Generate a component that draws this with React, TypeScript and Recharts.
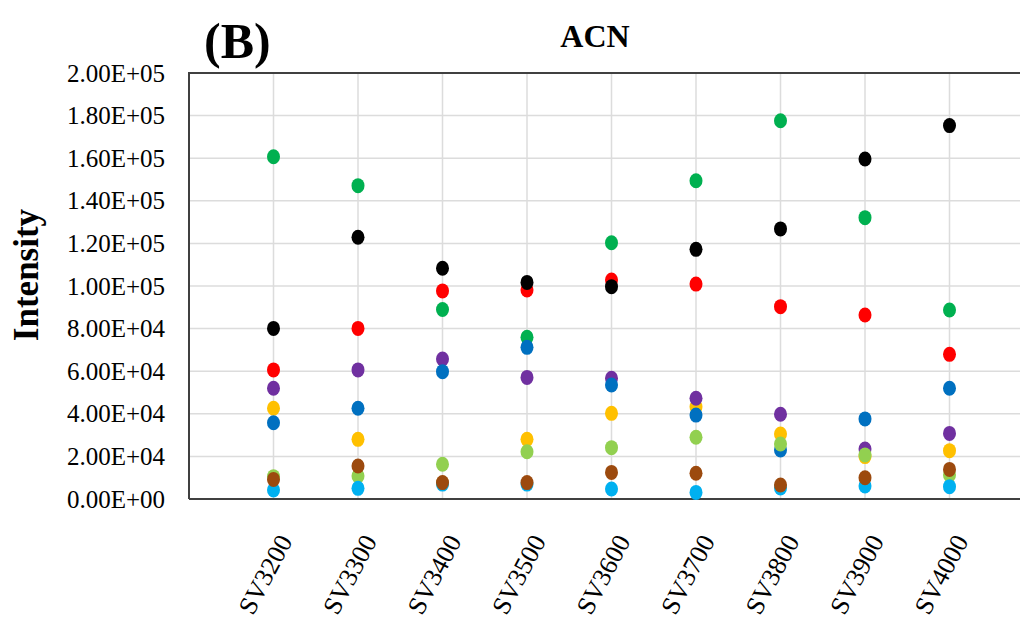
import React from "react";
import {
	ScatterChart,
	Scatter,
	XAxis,
	YAxis,
	CartesianGrid,
} from "recharts";

const categories = ["SV3200", "SV3300", "SV3400", "SV3500", "SV3600", "SV3700", "SV3800", "SV3900", "SV4000"];

const greenValues = [160700, 147100, 89000, 75900, 120300, 149400, 177600, 132100, 88700];
const blackValues = [80100, 122900, 108300, 101700, 99700, 117200, 126800, 159600, 175300];
const redValues = [60600, 80100, 97700, 98100, 102800, 100900, 90300, 86400, 67900];
const purpleValues = [52000, 60600, 65700, 57100, 56700, 47300, 39800, 23500, 30800];
const blueValues = [35800, 42600, 59800, 71200, 53500, 39400, 23000, 37600, 52000];
const yellowValues = [42600, 28000, 7500, 28000, 40200, 43300, 30500, 19900, 22700];
const lightGreenValues = [10500, 10800, 16300, 22200, 24100, 29000, 25800, 20700, 11300];
const brownValues = [9200, 15500, 7700, 7700, 12500, 12100, 6600, 10000, 13900];
const lightBlueValues = [4200, 5000, 7000, 7000, 4700, 3100, 5200, 6100, 5800];

const yTicks = [0, 20000, 40000, 60000, 80000, 100000, 120000, 140000, 160000, 180000, 200000];
const xTicks = [1, 2, 3, 4, 5, 6, 7, 8, 9];

// drawn bottom to top
const series = [
	{ name: "yellow", color: "#FFC000", values: yellowValues },
	{ name: "green", color: "#00B050", values: greenValues },
	{ name: "red", color: "#FF0000", values: redValues },
	{ name: "black", color: "#000000", values: blackValues },
	{ name: "purple", color: "#7030A0", values: purpleValues },
	{ name: "blue", color: "#0070C0", values: blueValues },
	{ name: "lightGreen", color: "#92D050", values: lightGreenValues },
	{ name: "lightBlue", color: "#00B0F0", values: lightBlueValues },
	{ name: "brown", color: "#9C4A0E", values: brownValues },
];

const serif = "'Liberation Serif', 'Times New Roman', serif";

const sci = (v: number) => {
	const [m, e] = v.toExponential(2).split("e");
	const sign = e[0] === "-" ? "-" : "+";
	const digits = e.replace(/[+-]/, "").padStart(2, "0");
	return `${m}E${sign}${digits}`;
};

const YTick = (props: any) => {
	const { y, payload } = props;
	return (
		<text x={157} y={y} textAnchor="end" dominantBaseline="central" fontSize={25} fontFamily={serif} fill="#000">
			{sci(payload.value)}
		</text>
	);
};

const XTick = (props: any) => {
	const { x, y, payload } = props;
	const label = categories[payload.value - 1];
	return (
		<g transform={`translate(${x + 12},${y + 30}) rotate(-62)`}>
			<text x={0} y={0} textAnchor="end" dominantBaseline="central" fontSize={26} fontFamily={serif} fill="#000">
				{label}
			</text>
		</g>
	);
};

const Dot = (props: any) => {
	const { cx, cy, fill } = props;
	return <ellipse cx={cx} cy={cy} rx={6.5} ry={7.5} fill={fill} />;
};

export default function App() {
	return (
		<div style={{ position: "relative", width: 1020, height: 614, overflow: "hidden", background: "#fff" }}>
			<ScatterChart width={1040} height={614} margin={{ top: 65, right: 14, left: 0, bottom: 0 }}>
				<CartesianGrid stroke="#dcdcdc" strokeWidth={1.5} />
				<XAxis
					type="number"
					dataKey="x"
					domain={[0, 10]}
					ticks={xTicks}
					height={123}
					tick={<XTick />}
					tickLine={false}
					axisLine={{ stroke: "#404040", strokeWidth: 2 }}
					interval={0}
				/>
				<YAxis
					type="number"
					dataKey="y"
					domain={[0, 200000]}
					ticks={yTicks}
					width={181}
					tick={<YTick />}
					tickLine={false}
					axisLine={{ stroke: "#404040", strokeWidth: 2 }}
					interval={0}
				/>
				{series.map(s => (
					<Scatter
						key={s.name}
						name={s.name}
						data={categories.map((c, i) => ({ x: i + 1, y: s.values[i], category: c }))}
						fill={s.color}
						shape={<Dot />}
						isAnimationActive={false}
					/>
				))}
			</ScatterChart>
			{/* top border of the plot area */}
			<div style={{ position: "absolute", left: 180, top: 64, width: 860, height: 2, background: "#404040" }} />
			<div
				style={{
					position: "absolute",
					left: 196,
					top: 8,
					fontFamily: serif,
					fontWeight: "bold",
					fontSize: 50,
					lineHeight: "50px",
				}}
			>
				(B)
			</div>
			<div
				style={{
					position: "absolute",
					left: 587,
					top: 12,
					transform: "translateX(-50%)",
					fontFamily: serif,
					fontWeight: "bold",
					fontSize: 32,
					lineHeight: "32px",
				}}
			>
				ACN
			</div>
			<div
				style={{
					position: "absolute",
					left: 19,
					top: 267,
					transform: "translate(-50%, -50%) rotate(-90deg)",
					fontFamily: serif,
					fontWeight: "bold",
					fontSize: 35,
					lineHeight: "30px",
					whiteSpace: "nowrap",
				}}
			>
				Intensity
			</div>
		</div>
	);
}
